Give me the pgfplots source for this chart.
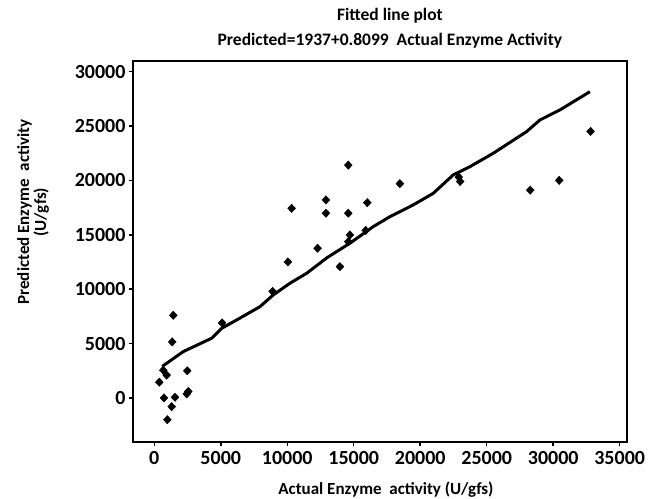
\documentclass[border=0pt]{standalone}
\usepackage{pgfplots}
\pgfplotsset{compat=1.18}
\usepackage{fontspec}
\setmainfont{Carlito}
\begin{document}
\begin{tikzpicture}
\begin{axis}[
  scale only axis, width=494pt, height=381.3pt,
  xmin=-1600, xmax=35550, ymin=-4050, ymax=31000,
  xtick={0,5000,...,35000}, ytick={0,5000,...,30000},
  scaled ticks=false,
  tick pos=left, tick align=outside, major tick length=4pt,
  axis line style={line width=2.2pt},
  tick style={line width=1.5pt, black},
  /pgf/number format/1000 sep={},
  /pgf/number format/assume math mode=true,
  tick label style={font=\fontsize{20}{22}\selectfont\bfseries},
  xticklabel style={yshift=-2pt},
  title={Fitted line plot\\Predicted=1937+0.8099~~Actual Enzyme Activity},
  title style={font=\fontsize{17.5}{25}\selectfont\bfseries, align=center,
    at={(axis description cs:0.52,1)}, anchor=south, inner sep=0pt, yshift=6pt},
  xlabel={Actual Enzyme~~activity (U/gfs)},
  xlabel style={font=\fontsize{17}{18}\selectfont\bfseries,
    at={(axis description cs:0.512,-0.126)}, anchor=center},
  ylabel={Predicted Enzyme~~activity\\(U/gfs)},
  ylabel style={font=\fontsize{17}{17}\selectfont\bfseries, align=center,
    at={(axis description cs:-0.2024,0.603)}, anchor=center},
]
\addplot[black, line width=3pt, line join=round] coordinates {
(600,2900) (2180,4260) (4320,5490) (5070,6400) (6200,7170) (7950,8390)
(8950,9470) (10200,10540) (11460,11460) (13000,12900) (14710,14220)
(16470,15750) (17720,16660) (19470,17740) (20980,18810) (22480,20500)
(23740,21260) (25490,22490) (28000,24480) (29000,25550) (30500,26470)
(32760,28150)
};
\addplot[only marks, mark=diamond*, mark size=4.2pt, mark options={xscale=1.25}, black] coordinates {
(1430,7600) (1350,5150) (680,2550) (930,2100) (380,1450) (2480,2500)
(730,0) (1560,60) (1310,-800) (2560,600) (2440,370) (980,-2000)
(5100,6900) (8900,9800) (10050,12500) (10330,17430) (12280,13760)
(12910,18200) (12910,16980) (13960,12070) (14590,21400) (14590,16980)
(14710,14980) (14590,14370) (15900,15400) (16020,17950) (18470,19700)
(22900,20300) (23000,19900) (28270,19100) (30450,20000) (32810,24500)
};
\end{axis}
\pgfresetboundingbox
\path[use as bounding box] ([shift={(-133pt,-56pt)}]current axis.south west) rectangle ([shift={(23pt,60.7pt)}]current axis.north east);
\end{tikzpicture}
\end{document}
